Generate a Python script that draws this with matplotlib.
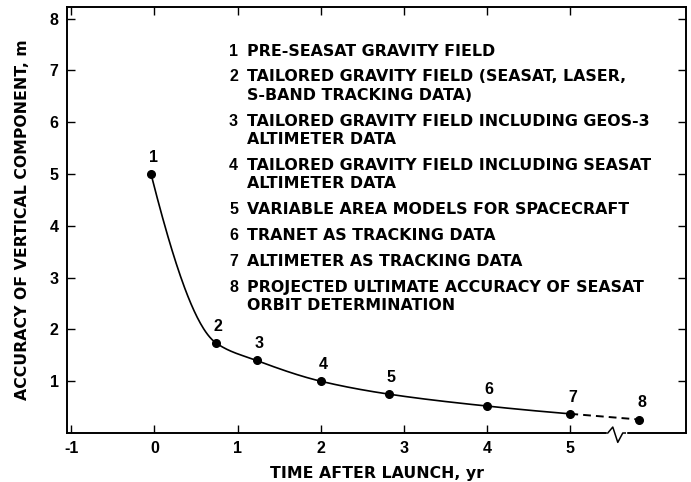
import numpy as np
import matplotlib
matplotlib.use("Agg")
import matplotlib.pyplot as plt
from matplotlib.transforms import blended_transform_factory

plt.rcParams['font.family'] = ['Liberation Sans', 'DejaVu Sans']
plt.rcParams['font.weight'] = 'bold'
WIDE = ['DejaVu Sans']

# ---- data ----
point_labels = ['1', '2', '3', '4', '5', '6', '7', '8']
time_yr = [-0.04, 0.74, 1.23, 2.0, 2.82, 4.0, 5.0, 5.83]
accuracy_m = [5.0, 1.74, 1.40, 1.0, 0.75, 0.52, 0.37, 0.26]
n_solid = 7  # points 1-7 joined by solid curve, 7-8 dashed (projected)

x_ticks = [-1, 0, 1, 2, 3, 4, 5]
y_ticks = [1, 2, 3, 4, 5, 6, 7, 8]

legend_items = [
    ('1', ['PRE-SEASAT GRAVITY FIELD']),
    ('2', ['TAILORED GRAVITY FIELD (SEASAT, LASER,', 'S-BAND TRACKING DATA)']),
    ('3', ['TAILORED GRAVITY FIELD INCLUDING GEOS-3', 'ALTIMETER DATA']),
    ('4', ['TAILORED GRAVITY FIELD INCLUDING SEASAT', 'ALTIMETER DATA']),
    ('5', ['VARIABLE AREA MODELS FOR SPACECRAFT']),
    ('6', ['TRANET AS TRACKING DATA']),
    ('7', ['ALTIMETER AS TRACKING DATA']),
    ('8', ['PROJECTED ULTIMATE ACCURACY OF SEASAT', 'ORBIT DETERMINATION']),
]


def pchip(x, y, xs):
    x = np.asarray(x, float)
    y = np.asarray(y, float)
    h = np.diff(x)
    delta = np.diff(y) / h
    n = len(x)
    d = np.zeros(n)
    for k in range(1, n - 1):
        if delta[k - 1] * delta[k] > 0:
            w1 = 2 * h[k] + h[k - 1]
            w2 = h[k] + 2 * h[k - 1]
            d[k] = (w1 + w2) / (w1 / delta[k - 1] + w2 / delta[k])

    def end(h0, h1, d0, d1):
        v = ((2 * h0 + h1) * d0 - h0 * d1) / (h0 + h1)
        if np.sign(v) != np.sign(d0):
            v = 0.0
        elif np.sign(d0) != np.sign(d1) and abs(v) > abs(3 * d0):
            v = 3 * d0
        return v

    d[0] = end(h[0], h[1], delta[0], delta[1])
    d[-1] = end(h[-1], h[-2], delta[-1], delta[-2])
    idx = np.clip(np.searchsorted(x, xs) - 1, 0, n - 2)
    t = (xs - x[idx]) / h[idx]
    h00 = 2 * t**3 - 3 * t**2 + 1
    h10 = t**3 - 2 * t**2 + t
    h01 = -2 * t**3 + 3 * t**2
    h11 = t**3 - t**2
    return (h00 * y[idx] + h10 * h[idx] * d[idx] + h01 * y[idx + 1]
            + h11 * h[idx] * d[idx + 1])


W, H = 691, 482
fig = plt.figure(figsize=(W / 100, H / 100), dpi=100)
L, R, T, B = 67, 686, 7.3, 433
ax = fig.add_axes([L / W, 1 - B / H, (R - L) / W, (B - T) / H])

ax.set_xlim(-1.05, 6.39)
ax.set_ylim(0, 8.22)

# solid smooth curve
xs = np.linspace(time_yr[0], time_yr[n_solid - 1], 400)
ax.plot(xs, pchip(time_yr[:n_solid], accuracy_m[:n_solid], xs),
        color='black', lw=1.2, solid_capstyle='round')
# dashed projection
ax.plot(time_yr[n_solid - 1:], accuracy_m[n_solid - 1:], color='black',
        lw=1.4, linestyle=(0, (4, 2.6)))
# points
ax.plot(time_yr, accuracy_m, 'o', color='black', ms=5.5)
for lab, x, y in zip(point_labels, time_yr, accuracy_m):
    ax.annotate(lab, (x, y), xytext=(1.5, 12), textcoords='offset points',
                ha='center', va='center', fontsize=11.5, fontweight='bold')

for s in ax.spines.values():
    s.set_linewidth(1.4)

ax.set_xticks(x_ticks)
ax.set_xticklabels(['-1' if v == -1 else str(v) for v in x_ticks])
ax.set_yticks(y_ticks)
ax.tick_params(direction='in', length=6, width=1.0, labelsize=11.5,
               top=True, right=True, pad=6)
for lbl in ax.get_xticklabels() + ax.get_yticklabels():
    lbl.set_fontweight('bold')

ax.set_xlabel('TIME AFTER LAUNCH, yr', fontsize=11.3, fontweight='bold',
              family=WIDE, labelpad=7)
ax.set_ylabel('ACCURACY OF VERTICAL COMPONENT, m', fontsize=11.3,
              fontweight='bold', family=WIDE, labelpad=14)

# axis break symbol
tr = blended_transform_factory(ax.transData, ax.transAxes)
ax.plot([5.45, 5.66], [0, 0], color='white', lw=2.5, transform=tr,
        clip_on=False, zorder=5)
ax.plot([5.45, 5.51, 5.57, 5.63, 5.66], [0, 0.014, -0.022, 0, 0],
        color='black', lw=1.1, transform=tr, clip_on=False, zorder=6)

# legend block
y = 51
for num, lines in legend_items:
    fig.text(229 / W, 1 - y / H, num, ha='left', va='center', fontsize=11.5,
             fontweight='bold')
    for i, line in enumerate(lines):
        fig.text(247 / W, 1 - (y + i * 18.5) / H, line, ha='left',
                 va='center', fontsize=11.4, fontweight='bold', family=WIDE)
    y += (len(lines) - 1) * 18.5 + 25.8

fig.savefig('out.png', dpi=100)
